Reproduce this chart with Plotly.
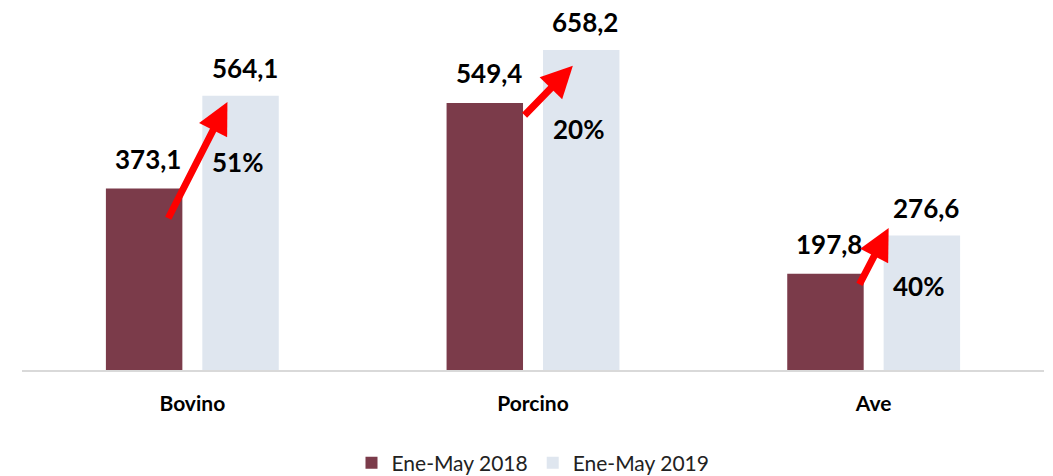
import plotly.graph_objects as go

# ── Data ──────────────────────────────────────────────────────────────────────
categories = ["Bovino", "Porcino", "Ave"]
values_2018 = [373.1, 549.4, 197.8]
values_2019 = [564.1, 658.2, 276.6]
value_labels_2018 = ["373,1", "549,4", "197,8"]
value_labels_2019 = ["564,1", "658,2", "276,6"]
pct_labels = ["51%", "20%", "40%"]

# ── Styling / layout positions ────────────────────────────────────────────────
COLOR_2018 = "#7B3B4A"
COLOR_2019 = "#DFE6EF"
ARROW_RED = "#FF0000"
FONT = "Lato"
BAR_OFFSET = 0.1415          # bar centre offset from category centre

# percent label heights (data units) and arrow tail/tip (offsets, data units)
pct_y = [428, 496, 173]
arrow_tail = [(-0.073, 309), (-0.029, 521), (-0.044, 173)]
arrow_tip = [(0.103, 551), (0.117, 626), (0.044, 292)]

fig = go.Figure()
fig.add_trace(go.Bar(
    x=categories, y=values_2018, name="Ene-May 2018",
    marker=dict(color=COLOR_2018, line=dict(width=0)),
))
fig.add_trace(go.Bar(
    x=categories, y=values_2019, name="Ene-May 2019",
    marker=dict(color=COLOR_2019, line=dict(width=0)),
))

label_font = dict(family=FONT, size=26, color="#000000", weight="bold")

for i in range(len(categories)):
    fig.add_annotation(
        x=i - BAR_OFFSET, y=values_2018[i], text=value_labels_2018[i],
        showarrow=False, yanchor="bottom", yshift=12, xshift=4, font=label_font,
    )
    fig.add_annotation(
        x=i + BAR_OFFSET, y=values_2019[i], text=value_labels_2019[i],
        showarrow=False, yanchor="bottom", yshift=10, xshift=4, font=label_font,
    )
    fig.add_annotation(
        x=i + BAR_OFFSET, y=pct_y[i], text=pct_labels[i],
        showarrow=False, xshift=-3, font=label_font,
    )
    fig.add_annotation(
        x=i + arrow_tip[i][0], y=arrow_tip[i][1],
        ax=i + arrow_tail[i][0], ay=arrow_tail[i][1],
        xref="x", yref="y", axref="x", ayref="y",
        text="", showarrow=True,
        arrowhead=2, arrowwidth=7, arrowsize=0.9, arrowcolor=ARROW_RED,
    )

fig.update_layout(
    barmode="group",
    bargap=0.434,
    bargroupgap=0.207,
    plot_bgcolor="#FFFFFF",
    paper_bgcolor="#FFFFFF",
    width=1053,
    height=476,
    margin=dict(l=22, r=9, t=0, b=106, autoexpand=False),
    xaxis=dict(
        showline=True, linecolor="#D9D9D9", linewidth=2,
        ticks="", showgrid=False,
        tickfont=dict(family=FONT, size=21, color="#000000", weight="bold"),
        ticklabelstandoff=14,
    ),
    yaxis=dict(
        range=[0, 761], visible=False, showgrid=False, zeroline=False,
    ),
    legend=dict(
        orientation="h", x=0.5, xanchor="center",
        yref="container", y=0.027, yanchor="middle",
        font=dict(family=FONT, size=21, color="#222222"),
        traceorder="normal", itemwidth=30,
    ),
    showlegend=True,
)

fig.write_html("out.html", config={"displayModeBar": False})

# drop the default browser body margin so the figure sits flush in the window
with open("out.html", encoding="utf-8") as f:
    html = f.read()
html = html.replace("<body>", '<body style="margin:0;overflow:hidden">', 1)
with open("out.html", "w", encoding="utf-8") as f:
    f.write(html)
